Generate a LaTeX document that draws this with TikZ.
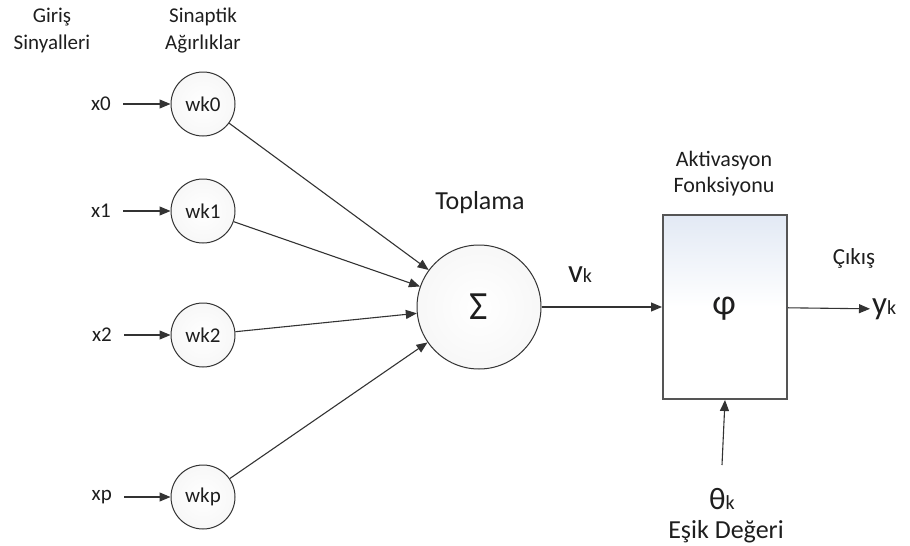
\documentclass[tikz,border=0pt]{standalone}
\usepackage{fontspec}
\setmainfont{Carlito}
\usetikzlibrary{arrows.meta}
\definecolor{ink}{HTML}{1E1E1E}
\definecolor{edge}{HTML}{333333}
\definecolor{boxedge}{HTML}{555555}
\definecolor{boxtop}{HTML}{E2E9F4}
\newcommand{\fs}[1]{\fontsize{#1}{#1}\selectfont}
\tikzset{
  lbl/.style={text=ink, font=\fs{21}, inner sep=0pt, align=center},
  weight/.style={circle, draw=edge, line width=1pt, minimum size=64pt, inner sep=0pt,
    inner color=white, outer color=gray!6, text=ink, font=\fs{21}},
  sumnode/.style={circle, draw=edge, line width=1pt, minimum size=124pt, inner sep=0pt,
    inner color=white, outer color=gray!6, text=ink, font=\fs{40}},
  actbox/.style={rectangle, draw=boxedge, line width=2pt, minimum width=124pt, minimum height=184pt,
    inner sep=0pt, top color=boxtop, bottom color=white, middle color=white, shading angle=0},
  conn/.style={draw=edge, line width=1.1pt, -{Triangle[length=11pt,width=9pt]}},
  feed/.style={conn, shorten <=12pt},
}
\begin{document}
\begin{tikzpicture}[x=1pt, y=-1pt]
  \useasboundingbox (0,0) rectangle (910,546);

  % column headings
  \node[lbl] (hin1) at (52,17) {Giriş};
  \node[lbl] (hin2) at (52,44) {Sinyalleri};
  \node[lbl] (hw1) at (203,17) {Sinaptik};
  \node[lbl] (hw2) at (203,44) {Ağırlıklar};

  % inputs
  \node[lbl, anchor=east] (x0) at (111,104) {x0};
  \node[lbl, anchor=east] (x1) at (111,211) {x1};
  \node[lbl, anchor=east] (x2) at (112,335) {x2};
  \node[lbl, anchor=east] (xp) at (112,497) {xp};

  % synaptic weights
  \node[weight] (w0) at (203,104) {wk0};
  \node[weight] (w1) at (203,211) {wk1};
  \node[weight] (w2) at (203,335) {wk2};
  \node[weight] (wp) at (203,497) {wkp};

  % summing junction
  \node[sumnode] (sum) at (479,307) {Σ};
  \node[lbl, font=\fs{26}] (top) at (480,203) {Toplama};

  % activation function
  \node[actbox] (act) at (725,307) {};
  \node[lbl, font=\fs{36}] (phi) at (724,309) {φ};
  \node[lbl, font=\fs{22}] (acth1) at (724,161) {Aktivasyon};
  \node[lbl, font=\fs{22}] (acth2) at (724,187) {Fonksiyonu};

  % output
  \node[lbl, font=\fs{23}] (cik) at (854,258) {Çıkış};
  \node[lbl, anchor=west, inner sep=2pt] (yk) at (870,309) {{\fs{33}y}{\fs{20}k}};

  % net input label
  \node[lbl] (vk) at (580,275) {{\fs{33}v}{\fs{20}k}};

  % threshold
  \coordinate (thin) at (722,465);
  \node[lbl] (thk) at (722,499) {{\fs{31}θ}{\fs{20}k}};
  \node[lbl, font=\fs{26}] (esik) at (726,532) {Eşik Değeri};

  % connectors
  \draw[feed] (x0) -- (w0);
  \draw[feed] (x1) -- (w1);
  \draw[feed] (x2) -- (w2);
  \draw[feed] (xp) -- (wp);
  \draw[conn] (w0) -- (sum);
  \draw[conn] (w1) -- (sum);
  \draw[conn] (w2) -- (sum);
  \draw[conn] (wp) -- (sum);
  \draw[conn] (sum) -- (act);
  \draw[conn] (act) -- (yk);
  \draw[conn] (thin) -- (act.south);
\end{tikzpicture}
\end{document}
